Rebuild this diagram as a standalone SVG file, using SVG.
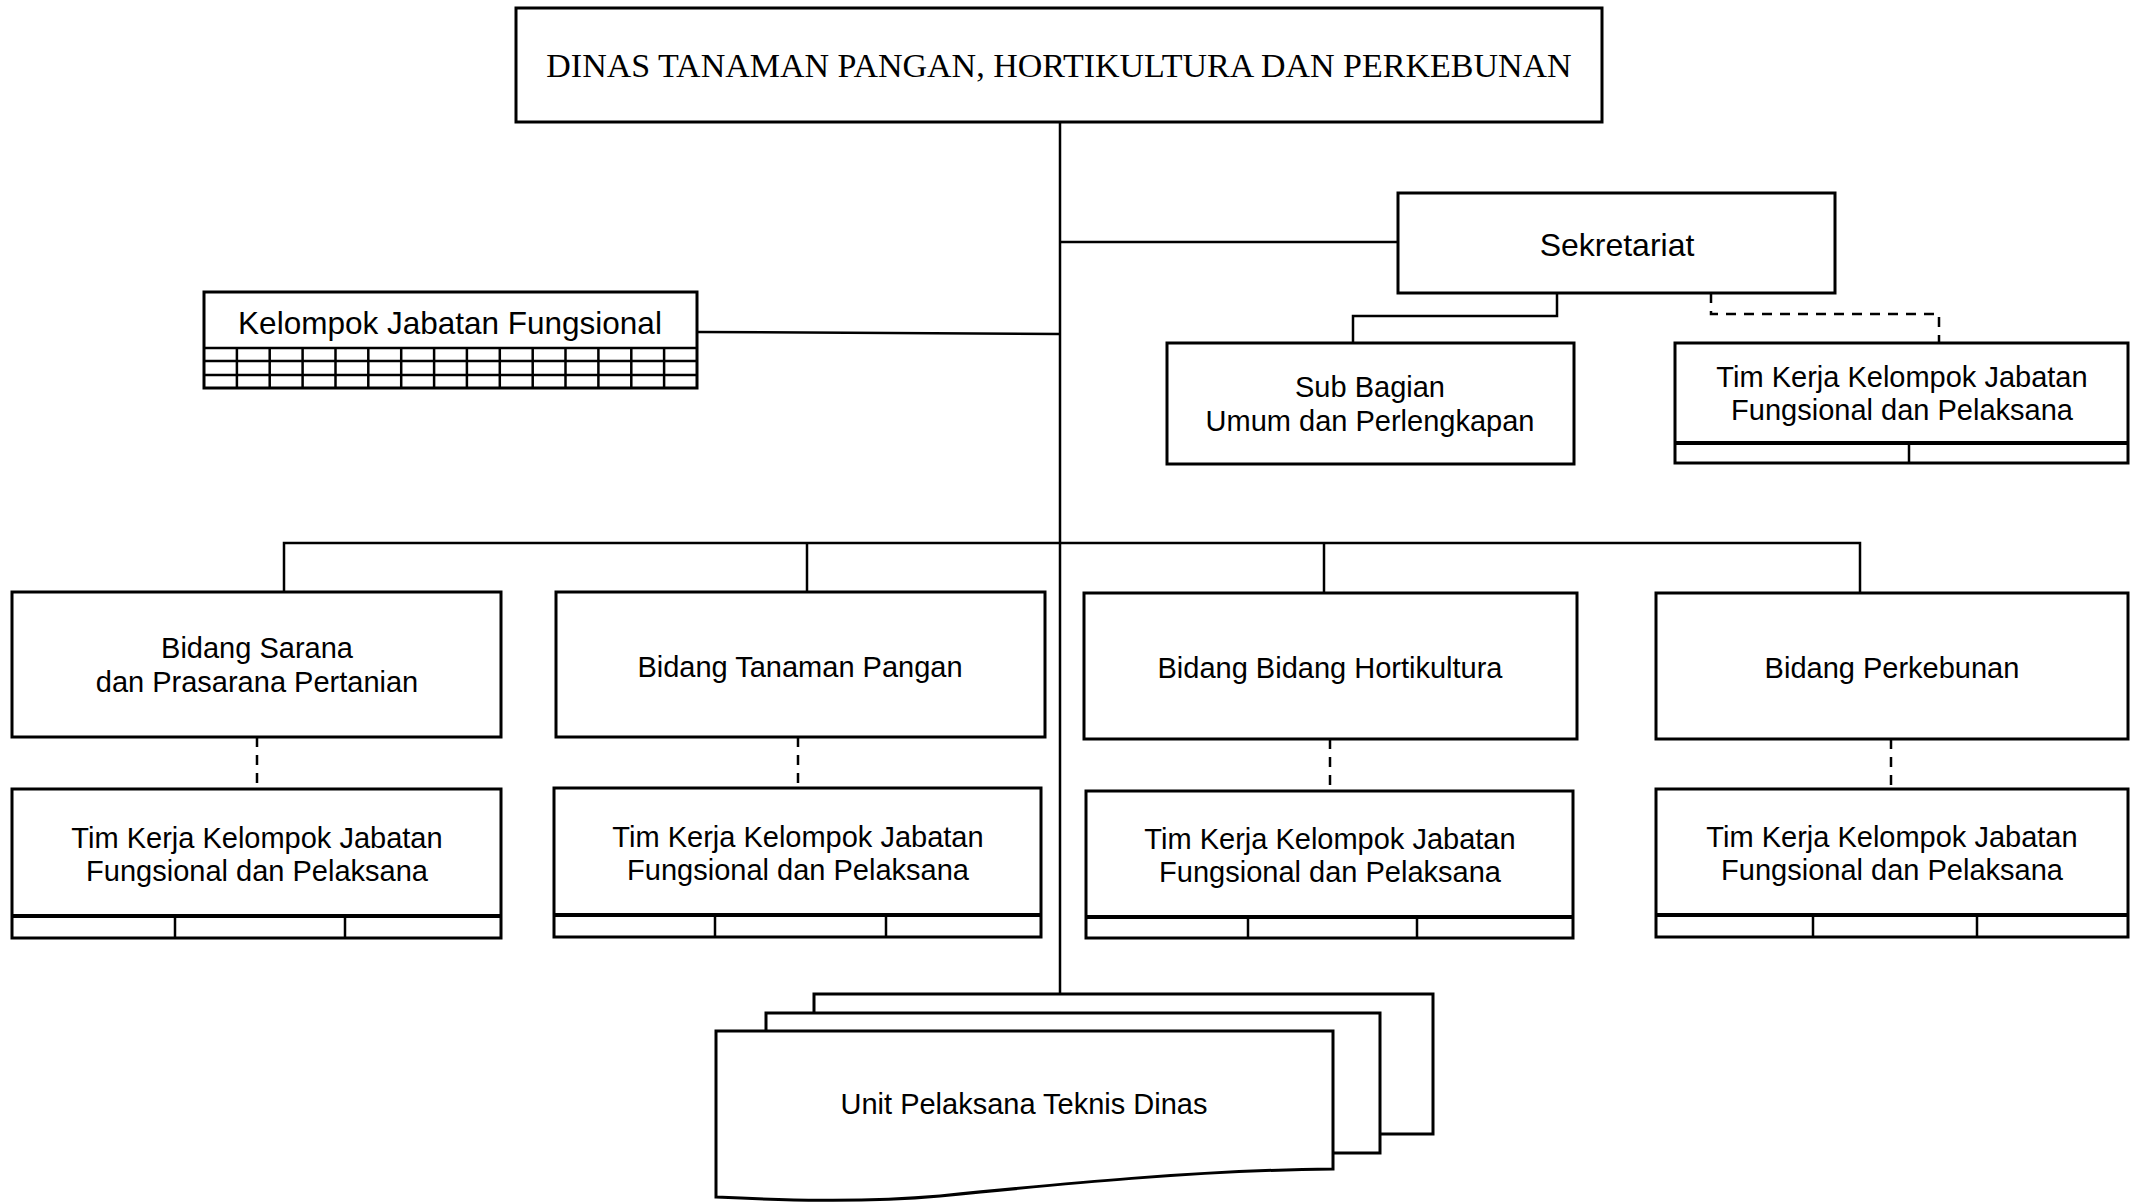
<svg xmlns="http://www.w3.org/2000/svg" width="2131" height="1202" viewBox="0 0 2131 1202">
  <style>
    .box { fill: #ffffff; stroke: #000000; stroke-width: 3; }
    .sep { fill: none; stroke: #000000; stroke-width: 2.5; }
    .thick { fill: none; stroke: #000000; stroke-width: 4; }
    .link { fill: none; stroke: #000000; stroke-width: 2.5; }
    .dash { fill: none; stroke: #000000; stroke-width: 2.5; stroke-dasharray: 10 8; }
    .lbl { font-family: "Liberation Sans", Arial, sans-serif; font-size: 29px; fill: #000000; text-anchor: middle; }
    .title { font-family: "Liberation Serif", "Times New Roman", serif; font-size: 34px; fill: #000000; text-anchor: middle; }
  </style>
  <rect width="2131" height="1202" fill="#ffffff"/>

  <!-- connectors -->
  <g id="connectors">
    <path class="link" d="M1060,122 V994"/>
    <path class="link" d="M1060,242 H1398"/>
    <path class="link" d="M697,332 L1060,334"/>
    <path class="link" d="M1557,293 V316 H1353 V343"/>
    <path class="dash" d="M1711,293 V314 H1939 V343"/>
    <path class="link" d="M284,592 V543 H1860 V593"/>
    <path class="link" d="M807,543 V592"/>
    <path class="link" d="M1324,543 V593"/>
    <path class="dash" d="M257,737 V789"/>
    <path class="dash" d="M798,737 V788"/>
    <path class="dash" d="M1330,739 V791"/>
    <path class="dash" d="M1891,739 V789"/>
  </g>

  <!-- head office -->
  <g id="dinas">
    <rect class="box" x="516" y="8" width="1086" height="114"/>
    <text class="title" x="1059" y="77">DINAS TANAMAN PANGAN, HORTIKULTURA DAN PERKEBUNAN</text>
  </g>

  <!-- functional group with grid below -->
  <g id="kelompok-jabatan">
    <rect class="box" x="204" y="292" width="493" height="96"/>
    <path class="sep" d="M204,348 H697 M204,361 H697 M204,375 H697
      M236.9,348 V388 M269.7,348 V388 M302.6,348 V388 M335.5,348 V388 M368.3,348 V388
      M401.2,348 V388 M434.1,348 V388 M466.9,348 V388 M499.8,348 V388 M532.7,348 V388
      M565.5,348 V388 M598.4,348 V388 M631.3,348 V388 M664.1,348 V388"/>
    <text class="lbl" x="450" y="334" style="font-size:31.5px">Kelompok Jabatan Fungsional</text>
  </g>

  <!-- secretariat -->
  <g id="sekretariat">
    <rect class="box" x="1398" y="193" width="437" height="100"/>
    <text class="lbl" x="1617" y="256" style="font-size:32px">Sekretariat</text>
  </g>

  <g id="sub-bagian">
    <rect class="box" x="1167" y="343" width="407" height="121"/>
    <text class="lbl" x="1370" y="397">Sub Bagian</text>
    <text class="lbl" x="1370" y="431">Umum dan Perlengkapan</text>
  </g>

  <g id="tim-kerja-sekretariat">
    <rect class="box" x="1675" y="343" width="453" height="120"/>
    <path class="thick" d="M1675,443 H2128"/>
    <path class="sep" d="M1909,443 V463"/>
    <text class="lbl" x="1902" y="387">Tim Kerja Kelompok Jabatan</text>
    <text class="lbl" x="1902" y="420">Fungsional dan Pelaksana</text>
  </g>

  <!-- divisions -->
  <g id="bidang-sarana">
    <rect class="box" x="12" y="592" width="489" height="145"/>
    <text class="lbl" x="257" y="658">Bidang Sarana</text>
    <text class="lbl" x="257" y="692">dan Prasarana Pertanian</text>
  </g>

  <g id="bidang-tanaman-pangan">
    <rect class="box" x="556" y="592" width="489" height="145"/>
    <text class="lbl" x="800" y="677">Bidang Tanaman Pangan</text>
  </g>

  <g id="bidang-hortikultura">
    <rect class="box" x="1084" y="593" width="493" height="146"/>
    <text class="lbl" x="1330" y="678">Bidang Bidang Hortikultura</text>
  </g>

  <g id="bidang-perkebunan">
    <rect class="box" x="1656" y="593" width="472" height="146"/>
    <text class="lbl" x="1892" y="678">Bidang Perkebunan</text>
  </g>

  <!-- working teams under each division -->
  <g id="tim-kerja-sarana">
    <rect class="box" x="12" y="789" width="489" height="149"/>
    <path class="thick" d="M12,916 H501"/>
    <path class="sep" d="M175,916 V938 M345,916 V938"/>
    <text class="lbl" x="257" y="848">Tim Kerja Kelompok Jabatan</text>
    <text class="lbl" x="257" y="881">Fungsional dan Pelaksana</text>
  </g>

  <g id="tim-kerja-tanaman-pangan">
    <rect class="box" x="554" y="788" width="487" height="149"/>
    <path class="thick" d="M554,915 H1041"/>
    <path class="sep" d="M715,915 V937 M886,915 V937"/>
    <text class="lbl" x="798" y="847">Tim Kerja Kelompok Jabatan</text>
    <text class="lbl" x="798" y="880">Fungsional dan Pelaksana</text>
  </g>

  <g id="tim-kerja-hortikultura">
    <rect class="box" x="1086" y="791" width="487" height="147"/>
    <path class="thick" d="M1086,917 H1573"/>
    <path class="sep" d="M1248,917 V938 M1417,917 V938"/>
    <text class="lbl" x="1330" y="849">Tim Kerja Kelompok Jabatan</text>
    <text class="lbl" x="1330" y="882">Fungsional dan Pelaksana</text>
  </g>

  <g id="tim-kerja-perkebunan">
    <rect class="box" x="1656" y="789" width="472" height="148"/>
    <path class="thick" d="M1656,915 H2128"/>
    <path class="sep" d="M1813,915 V937 M1977,915 V937"/>
    <text class="lbl" x="1892" y="847">Tim Kerja Kelompok Jabatan</text>
    <text class="lbl" x="1892" y="880">Fungsional dan Pelaksana</text>
  </g>

  <!-- technical units: stacked documents -->
  <g id="upt-dinas">
    <path class="box" d="M814,1013 V994 H1433 V1134 H1380"/>
    <path class="box" d="M766,1031 V1013 H1380 V1153 H1333"/>
    <path class="box" d="M716,1031 H1333 V1169 C1200,1170 1060,1184 940,1196 C860,1203 780,1200 716,1197 Z"/>
    <text class="lbl" x="1024" y="1114">Unit Pelaksana Teknis Dinas</text>
  </g>
</svg>
